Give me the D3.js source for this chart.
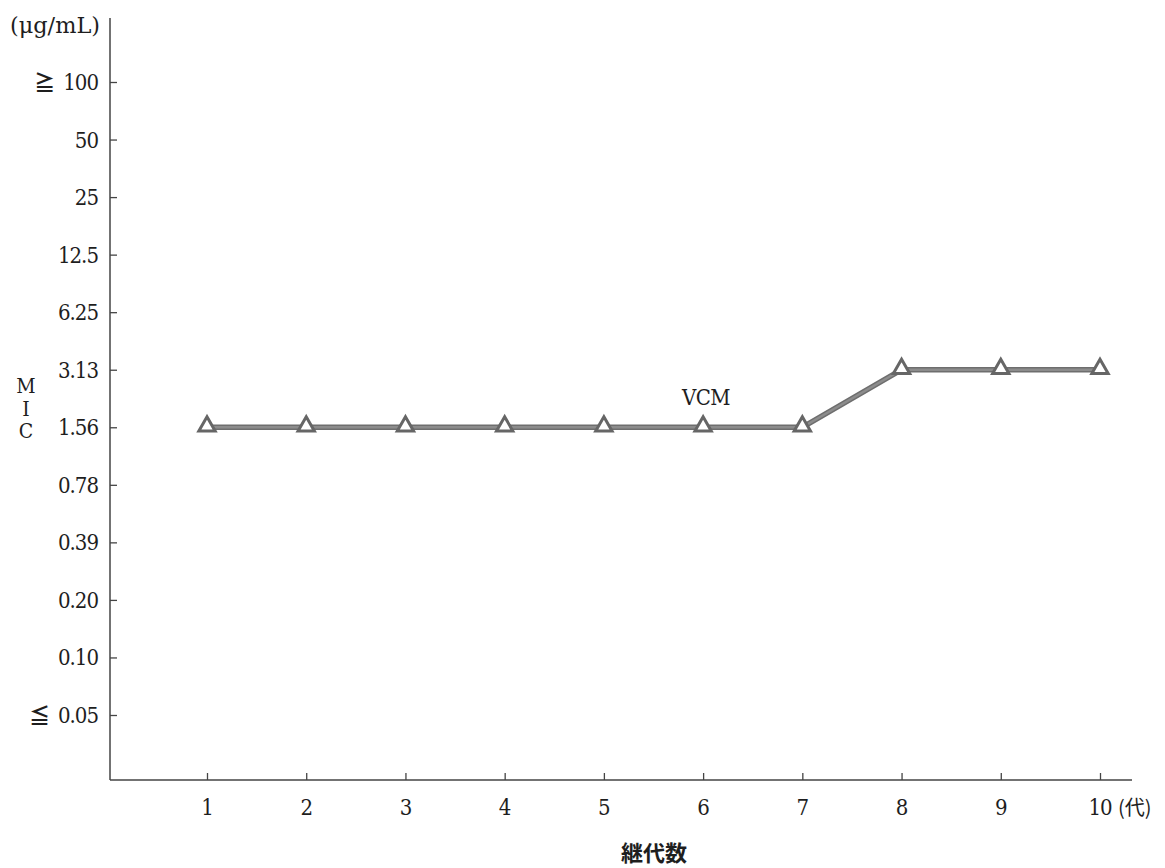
<!DOCTYPE html>
<html><head><meta charset="utf-8">
<script src="https://cdn.jsdelivr.net/npm/d3@7"></script>
<style>body{margin:0;background:#fff}</style>
</head><body>
<svg id="c" width="1165" height="868"></svg>
<script>
const generations = [1,2,3,4,5,6,7,8,9,10];
const micLevels = ["≦ 0.05","0.10","0.20","0.39","0.78","1.56","3.13","6.25","12.5","25","50","≧ 100"];
const vcmValues = ["1.56","1.56","1.56","1.56","1.56","1.56","1.56","3.13","3.13","3.13"];
const seriesName = "VCM";

const svg = d3.select("#c");
const serif = "'DejaVu Serif','Liberation Serif',serif";
const cjk = "'Noto Sans CJK JP',sans-serif";
const x = d3.scaleLinear().domain([1,10]).range([207,1100]);
const y = d3.scalePoint().domain(micLevels).range([715,82]);
const axisX0 = 110, axisY0 = 780, axisTop = 18, axisRight = 1132;
const txt = "#1e1e1e";

function serifText(sel){
  return sel.attr("font-family",serif).attr("font-stretch","condensed").attr("fill",txt);
}

svg.append("line").attr("x1",axisX0).attr("x2",axisX0).attr("y1",axisTop).attr("y2",axisY0)
  .attr("stroke","#444").attr("stroke-width",1.5);
svg.append("line").attr("x1",axisX0).attr("x2",axisRight).attr("y1",axisY0).attr("y2",axisY0)
  .attr("stroke","#444").attr("stroke-width",1.5);

const yAxis = d3.axisRight(y).tickSize(7).tickFormat(()=>"");
const gy = svg.append("g").attr("transform",`translate(${axisX0},0)`).call(yAxis);
gy.select(".domain").remove();
gy.selectAll("line").attr("stroke","#444").attr("stroke-width",1.3);
const ylab = svg.selectAll(".ylab").data(micLevels).enter().append("text")
  .attr("x",98).attr("y",d=>y(d)+8).attr("text-anchor","end")
  .attr("font-size",22).call(serifText);
ylab.each(function(d){
  const t = d3.select(this);
  const m = d.match(/^([≦≧])\s*(.*)$/);
  if(m){
    t.append("tspan").attr("font-family",cjk).attr("font-size",21).attr("font-weight","bold").text(m[1]);
    t.append("tspan").attr("dx",8).attr("letter-spacing",-1).text(m[2]);
  } else {
    t.attr("letter-spacing",-1).text(d);
  }
});

const xAxis = d3.axisTop(x).tickValues(generations).tickSize(7).tickFormat(()=>"");
const gx = svg.append("g").attr("transform",`translate(0,${axisY0})`).call(xAxis);
gx.select(".domain").remove();
gx.selectAll("line").attr("stroke","#444").attr("stroke-width",1.3);
svg.selectAll(".xlab").data(generations).enter().append("text")
  .attr("x",d=>x(d)).attr("y",815).attr("text-anchor","middle")
  .attr("font-size",22).attr("letter-spacing",-1).call(serifText).text(d=>d);
svg.append("text").attr("x",1118).attr("y",815).attr("font-family",cjk)
  .attr("font-size",20).attr("fill",txt).text("(代)");

svg.append("text").attr("x",10).attr("y",33).attr("textLength",90).attr("lengthAdjust","spacingAndGlyphs")
  .attr("font-size",22).call(serifText).text("(μg/mL)");
["M","I","C"].forEach((ch,i)=>{
  svg.append("text").attr("x",26).attr("y",393+i*22.5).attr("text-anchor","middle")
    .attr("font-size",21).call(serifText).text(ch);
});
svg.append("text").attr("x",654).attr("y",861).attr("text-anchor","middle")
  .attr("font-family",cjk).attr("font-weight","bold")
  .attr("font-size",22).attr("fill",txt).text("継代数");

const pts = generations.map((g,i)=>({g, v: vcmValues[i]}));
const line = d3.line().x(d=>x(d.g)).y(d=>y(d.v));
svg.append("path").datum(pts).attr("d",line).attr("fill","none")
  .attr("stroke","#6e6e6e").attr("stroke-width",5.5);
svg.append("path").datum(pts).attr("d",line).attr("fill","none")
  .attr("stroke","#8c8c8c").attr("stroke-width",2.5);
const tri = d3.symbol().type(d3.symbolTriangle).size(115);
svg.selectAll(".m").data(pts).enter().append("path")
  .attr("d",tri).attr("transform",d=>`translate(${x(d.g)},${y(d.v)-1})`)
  .attr("fill","#fff").attr("stroke","#666").attr("stroke-width",3);
svg.append("text").attr("x",706).attr("y",405).attr("text-anchor","middle")
  .attr("font-size",22).attr("letter-spacing",-0.5).call(serifText).text(seriesName);
</script>
</body></html>
